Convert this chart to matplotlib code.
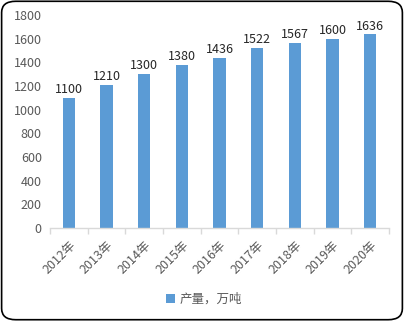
import matplotlib
matplotlib.use("Agg")
import matplotlib.pyplot as plt
from matplotlib.patches import FancyBboxPatch

plt.rcParams['font.family'] = ['Noto Sans CJK SC', 'DejaVu Sans']

years = ['2012年', '2013年', '2014年', '2015年', '2016年', '2017年', '2018年', '2019年', '2020年']
values = [1100, 1210, 1300, 1380, 1436, 1522, 1567, 1600, 1636]
series_name = '产量，万吨'

fig = plt.figure(figsize=(4.04, 3.21), dpi=100)
ax = fig.add_axes([0.124, 0.29, 0.839, 0.663])

bar_color = '#5B9BD5'
x = list(range(len(years)))
bars = ax.bar(x, values, width=0.33, color=bar_color, label=series_name, zorder=2)
for xi, v in zip(x, values):
    ax.text(xi, v + 15, str(v), ha='center', va='bottom', fontsize=9, color='#262626')

ax.set_xlim(-0.5, len(years) - 0.5)
ax.set_ylim(0, 1800)
ax.set_yticks(range(0, 1801, 200))
ax.tick_params(axis='y', length=0, labelsize=9, labelcolor='#595959', pad=6)
ax.set_xticks([i - 0.5 for i in range(len(years) + 1)], minor=False)
ax.set_xticklabels([])
ax.set_xticks(x, minor=True)
ax.set_xticklabels(years, minor=True, rotation=45, ha='right', va='top',
                   rotation_mode='anchor', fontsize=9, color='#595959')
ax.tick_params(axis='x', which='major', length=4, color='#D9D9D9', width=1)
ax.tick_params(axis='x', which='minor', length=0, pad=8)
for s in ['top', 'right', 'left']:
    ax.spines[s].set_visible(False)
ax.spines['bottom'].set_color('#D9D9D9')
ax.spines['bottom'].set_linewidth(1)

leg = fig.legend(handles=[bars], labels=[series_name], loc='center', bbox_to_anchor=(0.505, 0.068),
                 frameon=False, fontsize=9, handlelength=0.7, handleheight=0.7, handletextpad=0.4)
for t in leg.get_texts():
    t.set_color('#595959')

border = FancyBboxPatch((0.004, 0.004), 0.992, 0.992, boxstyle='round,pad=0,rounding_size=0.035',
                        transform=fig.transFigure, fill=False, edgecolor='black', linewidth=1.2)
fig.patches.append(border)

fig.savefig('out.png', dpi=100)
